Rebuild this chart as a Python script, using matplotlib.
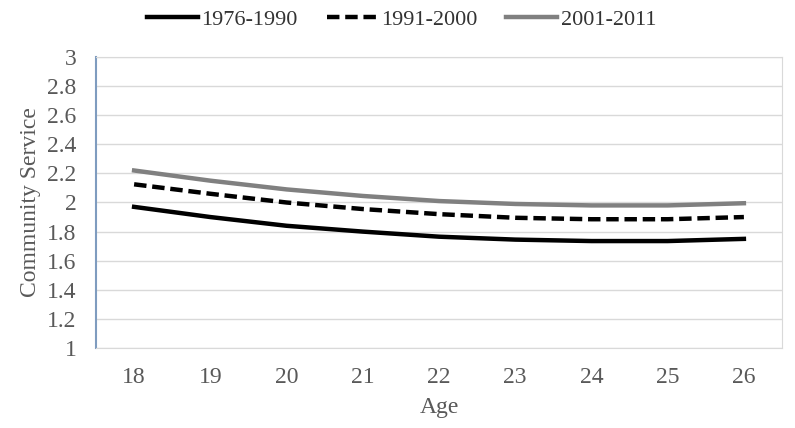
import matplotlib
matplotlib.use("Agg")
import matplotlib.pyplot as plt

ages = [18, 19, 20, 21, 22, 23, 24, 25, 26]
s1976 = [1.97, 1.90, 1.84, 1.80, 1.765, 1.745, 1.735, 1.735, 1.75]
s1991 = [2.125, 2.06, 2.00, 1.955, 1.92, 1.895, 1.885, 1.885, 1.90]
s2001 = [2.22, 2.15, 2.09, 2.045, 2.01, 1.99, 1.98, 1.98, 1.995]
labels = ["1976-1990", "1991-2000", "2001-2011"]
yticks = [1, 1.2, 1.4, 1.6, 1.8, 2, 2.2, 2.4, 2.6, 2.8, 3]

plt.rcParams['font.family'] = ['Liberation Serif', 'DejaVu Serif']
txt = '#595959'

fig = plt.figure(figsize=(7.95, 4.28), dpi=100)
ax = fig.add_axes([96/795, 1-348/428, 686/795, (348-57)/428])

ax.plot(ages, s1976, color='black', lw=3.2, label=labels[0])
ax.plot(ages, s1991, color='black', lw=3.2, ls=(0, (2.8, 1.3)), label=labels[1])
ax.plot(ages, s2001, color='#808080', lw=3.2, label=labels[2])

ax.set_xlim(17.5, 26.5)
ax.set_ylim(1, 3)
ax.set_xticks(ages)
ax.set_xticklabels([str(a) for a in ages])
ax.set_yticks(yticks)
ax.set_yticklabels(['%g' % v for v in yticks])
ax.grid(axis='y', color='#d9d9d9', lw=1)
ax.set_axisbelow(True)
for s in ['top', 'right', 'bottom']:
    ax.spines[s].set_color('#d9d9d9')
ax.spines['left'].set_color('#7f9cbf')
ax.spines['left'].set_linewidth(1.5)
ax.tick_params(length=0, labelsize=17, colors=txt)
ax.tick_params(axis='x', pad=14)
ax.tick_params(axis='y', pad=14)
ax.set_xlabel('Age', fontsize=17, color=txt, labelpad=6)
ax.set_ylabel('Community Service', fontsize=17, color=txt, labelpad=4)

fig.legend(loc='center', bbox_to_anchor=(0.505, 1-20/428), ncol=3, frameon=False,
           fontsize=16, labelcolor='#333333', handlelength=2.3, columnspacing=1.3, handletextpad=0.15)

fig.savefig('out.png', dpi=100)
